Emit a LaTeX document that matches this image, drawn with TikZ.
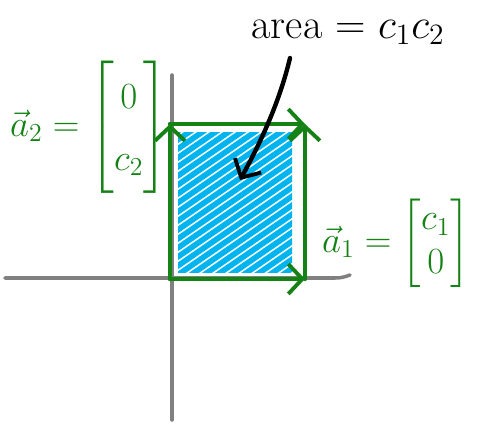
\RequirePackage{fix-cm}
\documentclass[tikz,border=0pt]{standalone}
\usepackage{amsmath, amssymb}
\usepackage{tikz}
\usepackage{xcolor}
\usetikzlibrary{arrows.meta}

\definecolor{vecgreen}{RGB}{20,130,20}
\definecolor{areablue}{RGB}{0,180,240}
\definecolor{axisgray}{RGB}{128,128,128}

\begin{document}
\begin{tikzpicture}[x=0.02cm, y=-0.02cm,
    axis/.style={axisgray, line width=2pt, line cap=round},
    vec/.style={vecgreen, line width=2.5pt, line cap=round,
      -{Straight Barb[length=8pt, width=17pt, line width=2.2pt]}},
    hatch/.style={areablue, line width=3.2pt, line cap=round},
    label/.style={font=\fontsize{21}{25}\selectfont, inner sep=0pt}]
  \useasboundingbox (0,0) rectangle (479,429);
  % --- Axes ---
  \draw[axis] (5,278) -- (335,278) to[out=0, in=200] (350,275);
  \draw[axis] (172,75) -- (172,420);
  % --- Shaded area ---
  \begin{scope}
    \clip (178,132) rectangle (292,272);
    \foreach \t in {150,159,...,375}
      \draw[hatch] (150,\t) -- (310,\t-110);
  \end{scope}
  % --- Parallelogram corners ---
  \coordinate (O) at (170,279);
  \coordinate (A1) at (305,279);
  \coordinate (A2) at (170,124);
  \coordinate (S) at (305,124);
  % Vectors
  \draw[vec] (O) -- (A1);
  \draw[vec] (O) -- (A2);
  \draw[vec] (A2) -- (S);
  \draw[vec] (A1) -- (S);
  % --- Labels ---
  \node[label, vecgreen] (a2) at (89,127)
    {\renewcommand{\arraystretch}{1.4}%
     $\vec{a}_2 = \begin{bmatrix} 0 \\ c_2 \end{bmatrix}$};
  \node[label, vecgreen] (a1) at (396,243)
    {$\vec{a}_1 = \begin{bmatrix} c_1 \\ 0 \end{bmatrix}$};
  \node[font=\fontsize{24}{29}\selectfont, inner sep=0pt] (area) at (348,32)
    {area $=$ $c_1 c_2$};
  % Pointer into the area
  \coordinate (tip) at (240,180);
  \draw[line width=2.5pt, line cap=round,
    -{Straight Barb[length=8pt, width=17pt, line width=2.2pt]}]
    (290,58) .. controls (280,100) and (262,140) .. (tip);
\end{tikzpicture}
\end{document}
